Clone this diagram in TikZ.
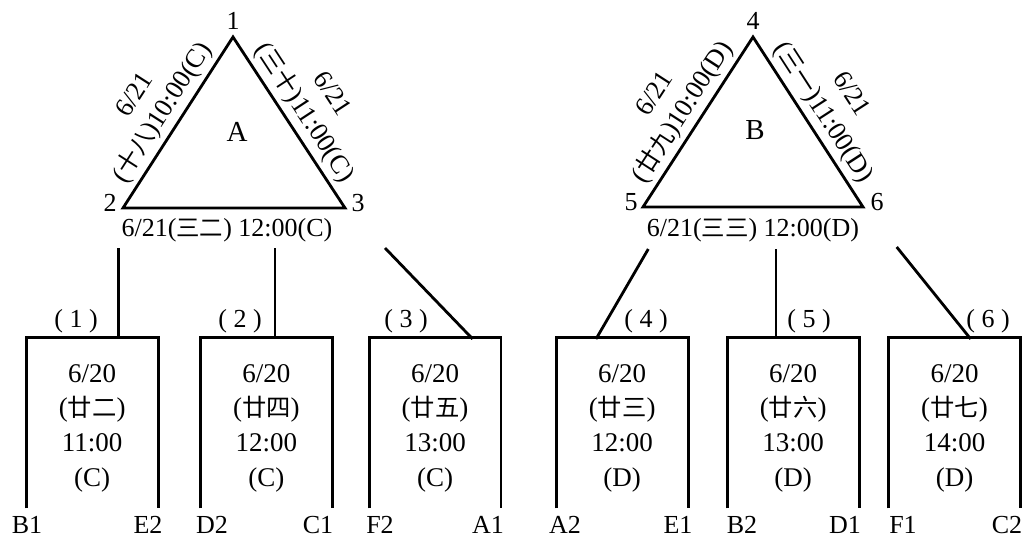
\documentclass[tikz,border=0pt]{standalone}
\usepackage{fontspec}
\setmainfont{Liberation Serif}
\newfontfamily\cjk[Scale=0.9]{Noto Sans CJK SC}
\begin{document}
\begin{tikzpicture}[x=1pt,y=-1pt,line width=2.8pt,
  lbl/.style={font=\fontsize{26}{34}\selectfont, inner sep=0pt},
  edgelbl/.style={font=\fontsize{26.5}{33}\selectfont, align=center, sloped, above, inner sep=4pt},
  big/.style={font=\fontsize{29}{34}\selectfont, inner sep=0pt},
  boxnode/.style={minimum width=129pt, minimum height=168pt, inner sep=0pt},
  boxtext/.style={inner sep=0pt, align=center, font=\fontsize{27}{34.7}\selectfont},
  openbox/.style={line join=miter}]
\useasboundingbox (0,0) rectangle (1027,541);
% triangle A
\coordinate (v1) at (233,37);
\coordinate (v2) at (123,208);
\coordinate (v3) at (345,208);
\draw[line join=miter] (v2) -- node[edgelbl]{6/21\\({\cjk 十八})10:00(C)} (v1)
  -- node[edgelbl]{6/21\\({\cjk 三十})11:00(C)} (v3) -- cycle;
\node[lbl] (n1) at (233,21) {1};
\node[lbl] (n2) at (110,203) {2};
\node[lbl] (n3) at (358,203) {3};
\node[big] (A) at (237,132) {A};
\node[lbl] (ta) at (227,230) {6/21({\cjk 三二}) 12:00(C)};
% triangle B
\coordinate (v4) at (753,37);
\coordinate (v5) at (643,207);
\coordinate (v6) at (863,207);
\draw[line join=miter] (v5) -- node[edgelbl]{6/21\\({\cjk 廿九})10:00(D)} (v4)
  -- node[edgelbl]{6/21\\({\cjk 三一})11:00(D)} (v6) -- cycle;
\node[lbl] (n4) at (753,21) {4};
\node[lbl] (n5) at (631,202) {5};
\node[lbl] (n6) at (877,202) {6};
\node[big] (B) at (755,130) {B};
\node[lbl] (tb) at (753,230) {6/21({\cjk 三三}) 12:00(D)};
% boxes
\node[boxnode] (b1) at (92.2,423) {};
\node[boxnode] (b2) at (266.3,423) {};
\node[boxnode] (b3) at (435,423) {};
\node[boxnode] (b4) at (622.2,423) {};
\node[boxnode] (b5) at (793.2,423) {};
\node[boxnode] (b6) at (954.5,423) {};
\foreach \b in {b1,b2,b3,b4,b5,b6}
  \draw[openbox] (\b.south west) -- (\b.north west) -- (\b.north east) -- (\b.south east);
\node[boxtext] (t1) at (92.2,428) {6/20\\({\cjk 廿二})\\11:00\\(C)};
\node[boxtext] (t2) at (266.3,428) {6/20\\({\cjk 廿四})\\12:00\\(C)};
\node[boxtext] (t3) at (435,428) {6/20\\({\cjk 廿五})\\13:00\\(C)};
\node[boxtext] (t4) at (622.2,428) {6/20\\({\cjk 廿三})\\12:00\\(D)};
\node[boxtext] (t5) at (793.2,428) {6/20\\({\cjk 廿六})\\13:00\\(D)};
\node[boxtext] (t6) at (954.5,428) {6/20\\({\cjk 廿七})\\14:00\\(D)};
% connectors
\coordinate (s1) at (118.3,248);
\coordinate (s2) at (275,248);
\coordinate (s3) at (385,248);
\coordinate (s4) at (648.3,249);
\coordinate (s5) at (776,249);
\coordinate (s6) at (896.7,247);
\coordinate (e3) at (472.7,339);
\coordinate (e4) at (596,339);
\coordinate (e6) at (970.7,339);
\draw (s1) -- (s1 |- b1.north);
\draw (s2) -- (s2 |- b2.north);
\draw (s3) -- (e3);
\draw (s4) -- (e4);
\draw (s5) -- (s5 |- b5.north);
\draw (s6) -- (e6);
% match labels
\node[lbl] (m1) at (76,321) {( 1 )};
\node[lbl] (m2) at (240,321) {( 2 )};
\node[lbl] (m3) at (406,321) {( 3 )};
\node[lbl] (m4) at (646,321) {( 4 )};
\node[lbl] (m5) at (809,321) {( 5 )};
\node[lbl] (m6) at (988,321) {( 6 )};
% team labels
\node[lbl] (B1) at (27,525) {B1};
\node[lbl] (E2) at (148,525) {E2};
\node[lbl] (D2) at (212,525) {D2};
\node[lbl] (C1) at (318,525) {C1};
\node[lbl] (F2) at (380,525) {F2};
\node[lbl] (A1) at (488,525) {A1};
\node[lbl] (A2) at (565,525) {A2};
\node[lbl] (E1) at (678,525) {E1};
\node[lbl] (B2) at (742,525) {B2};
\node[lbl] (D1) at (845,525) {D1};
\node[lbl] (F1) at (903,525) {F1};
\node[lbl] (C2) at (1007,525) {C2};
\end{tikzpicture}
\end{document}
